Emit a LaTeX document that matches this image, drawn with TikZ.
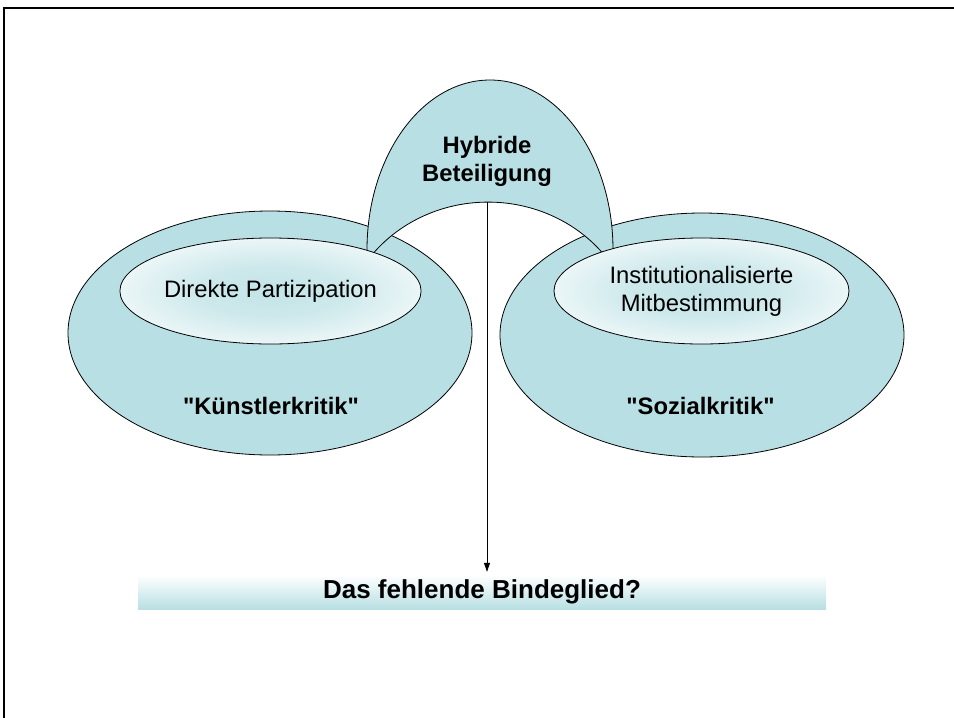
\documentclass[tikz,border=0pt]{standalone}
\usepackage{fontspec}
\setmainfont{Liberation Sans}[Ligatures=TeXOff]
\usetikzlibrary{shapes.geometric,arrows.meta}
\definecolor{ring}{RGB}{184,223,227}
\pgfdeclareradialshading{innerglow}{\pgfpoint{0bp}{0bp}}{color(0bp)=(ring!85!white); color(12bp)=(ring!70!white); color(34bp)=(white); color(50bp)=(white)}
\begin{document}
\begin{tikzpicture}[x=1pt,y=-1pt,
  bigell/.style={ellipse, draw=black, line width=0.8pt, fill=ring,
    minimum width=404pt, minimum height=244pt, inner sep=0pt},
  smallell/.style={ellipse, draw=black, line width=0.8pt, shading=innerglow,
    minimum width=295pt, minimum height=106pt, inner sep=0pt,
    font=\fontsize{23.8}{28}\selectfont, align=center},
  lbl/.style={font=\fontsize{23.8}{28}\selectfont\bfseries, align=center, inner sep=0pt},
  barbox/.style={rectangle, minimum width=688pt, minimum height=34pt, inner sep=0pt,
    top color=white, bottom color=ring, font=\fontsize{26}{30}\selectfont\bfseries},
  archstyle/.style={draw=black, line width=0.8pt, fill=ring},
  frameline/.style={line width=2pt, black}]
\useasboundingbox (0,0) rectangle (954,718);
\draw[frameline] (4,718) -- (4,8) -- (954,8);
% big ellipses
\node[bigell] (left) at (270,333) {};
\node[bigell] (right) at (702,335) {};
% arch
\draw[archstyle] (367,250) arc[start angle=180, end angle=0, x radius=123pt, y radius=170pt]
  -- (613,258) -- (606.7,258)
  arc[start angle=36.5, end angle=143.5, x radius=147.6pt, y radius=138pt] -- cycle;
% inner ellipses
\node[smallell] (direkt) at (270.5,291) {Direkte Partizipation};
\node[smallell] (instit) at (701.5,291) {Institutionalisierte\\Mitbestimmung};
% labels
\node[lbl] (hybrid) at (487,161) {Hybride\\Beteiligung};
\node[lbl] (kk) at (271,405.5) {"Künstlerkritik"};
\node[lbl] (sk) at (700.5,405.5) {"Sozialkritik"};
% bar
\node[barbox] (bar) at (482,592) {Das fehlende Bindeglied?};
% arrow
\coordinate (archin) at (487,202);
\draw[line width=0.8pt, -{Triangle[length=9pt,width=6pt]}] (archin) -- ([yshift=3pt]bar.north -| archin);
\end{tikzpicture}
\end{document}
